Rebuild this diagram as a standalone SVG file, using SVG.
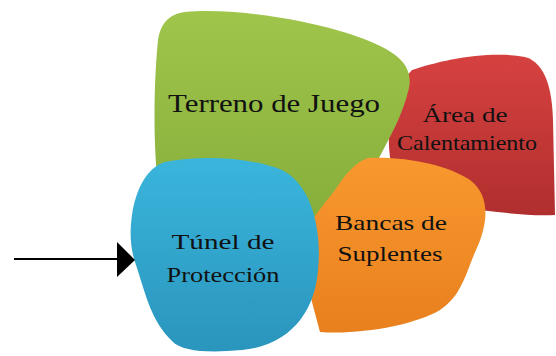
<svg xmlns="http://www.w3.org/2000/svg" width="556" height="356" viewBox="0 0 556 356">
<style>
.lbl{font-family:"Liberation Serif","DejaVu Serif",serif;fill:#111;text-anchor:middle}
</style>
<defs>
<linearGradient id="gG" x1="0" y1="0" x2="0" y2="1"><stop offset="0" stop-color="#9fc54b"/><stop offset="1" stop-color="#86ad3a"/></linearGradient>
<linearGradient id="gR" x1="0" y1="0" x2="0" y2="1"><stop offset="0" stop-color="#d64140"/><stop offset="1" stop-color="#b02f2e"/></linearGradient>
<linearGradient id="gO" x1="0" y1="0" x2="0" y2="1"><stop offset="0" stop-color="#f9982f"/><stop offset="1" stop-color="#e8801d"/></linearGradient>
<linearGradient id="gB" x1="0" y1="0" x2="0" y2="1"><stop offset="0" stop-color="#3ab5dc"/><stop offset="1" stop-color="#2a95bd"/></linearGradient>
</defs>
<g id="area-calentamiento">
<path fill="url(#gR)" d="M412,70 C440,60 490,50 525,57 C546,63 552,90 553,120 L555,215 C530,216 505,213 480,210 L395,180 C385,150 385,100 412,70 Z"/>
<text class="lbl" font-size="22" x="465" y="122" textLength="85" lengthAdjust="spacingAndGlyphs">Área de</text>
<text class="lbl" font-size="22" x="467" y="150" textLength="140" lengthAdjust="spacingAndGlyphs">Calentamiento</text>
</g>
<g id="terreno-de-juego">
<path fill="url(#gG)" d="M185,12 C230,8 300,18 350,34 C392,48 414,62 409,88 C402,118 388,140 378,160 L320,220 C290,240 200,230 160,200 C152,150 154,80 158,40 C161,22 170,14 185,12 Z"/>
<text class="lbl" font-size="26" x="274" y="112" textLength="212" lengthAdjust="spacingAndGlyphs">Terreno de Juego</text>
</g>
<g id="bancas-de-suplentes">
<path fill="url(#gO)" d="M368,158 C405,156 448,165 470,180 C490,195 489,222 476,250 C465,275 462,295 440,310 C415,325 360,335 320,332 L298,250 C305,225 320,210 335,190 C345,175 355,162 368,158 Z"/>
<text class="lbl" font-size="22" x="391" y="230" textLength="112" lengthAdjust="spacingAndGlyphs">Bancas de</text>
<text class="lbl" font-size="22" x="390" y="261" textLength="105" lengthAdjust="spacingAndGlyphs">Suplentes</text>
</g>
<g id="tunel-de-proteccion">
<path fill="url(#gB)" d="M165,162 C200,155 250,157 282,170 C312,185 322,230 318,270 C315,310 292,345 242,350 C210,353 182,352 172,341 C152,322 146,296 137,268 C131,252 129,236 132,215 C136,190 146,168 165,162 Z"/>
<text class="lbl" font-size="22" x="223" y="249" textLength="103" lengthAdjust="spacingAndGlyphs">Túnel de</text>
<text class="lbl" font-size="22" x="223" y="282" textLength="113" lengthAdjust="spacingAndGlyphs">Protección</text>
</g>
<g id="connectors">
<line x1="14" y1="259" x2="118" y2="259" stroke="#000" stroke-width="2"/>
<polygon points="117,242 135,260 117,277" fill="#000"/>
</g>
</svg>
